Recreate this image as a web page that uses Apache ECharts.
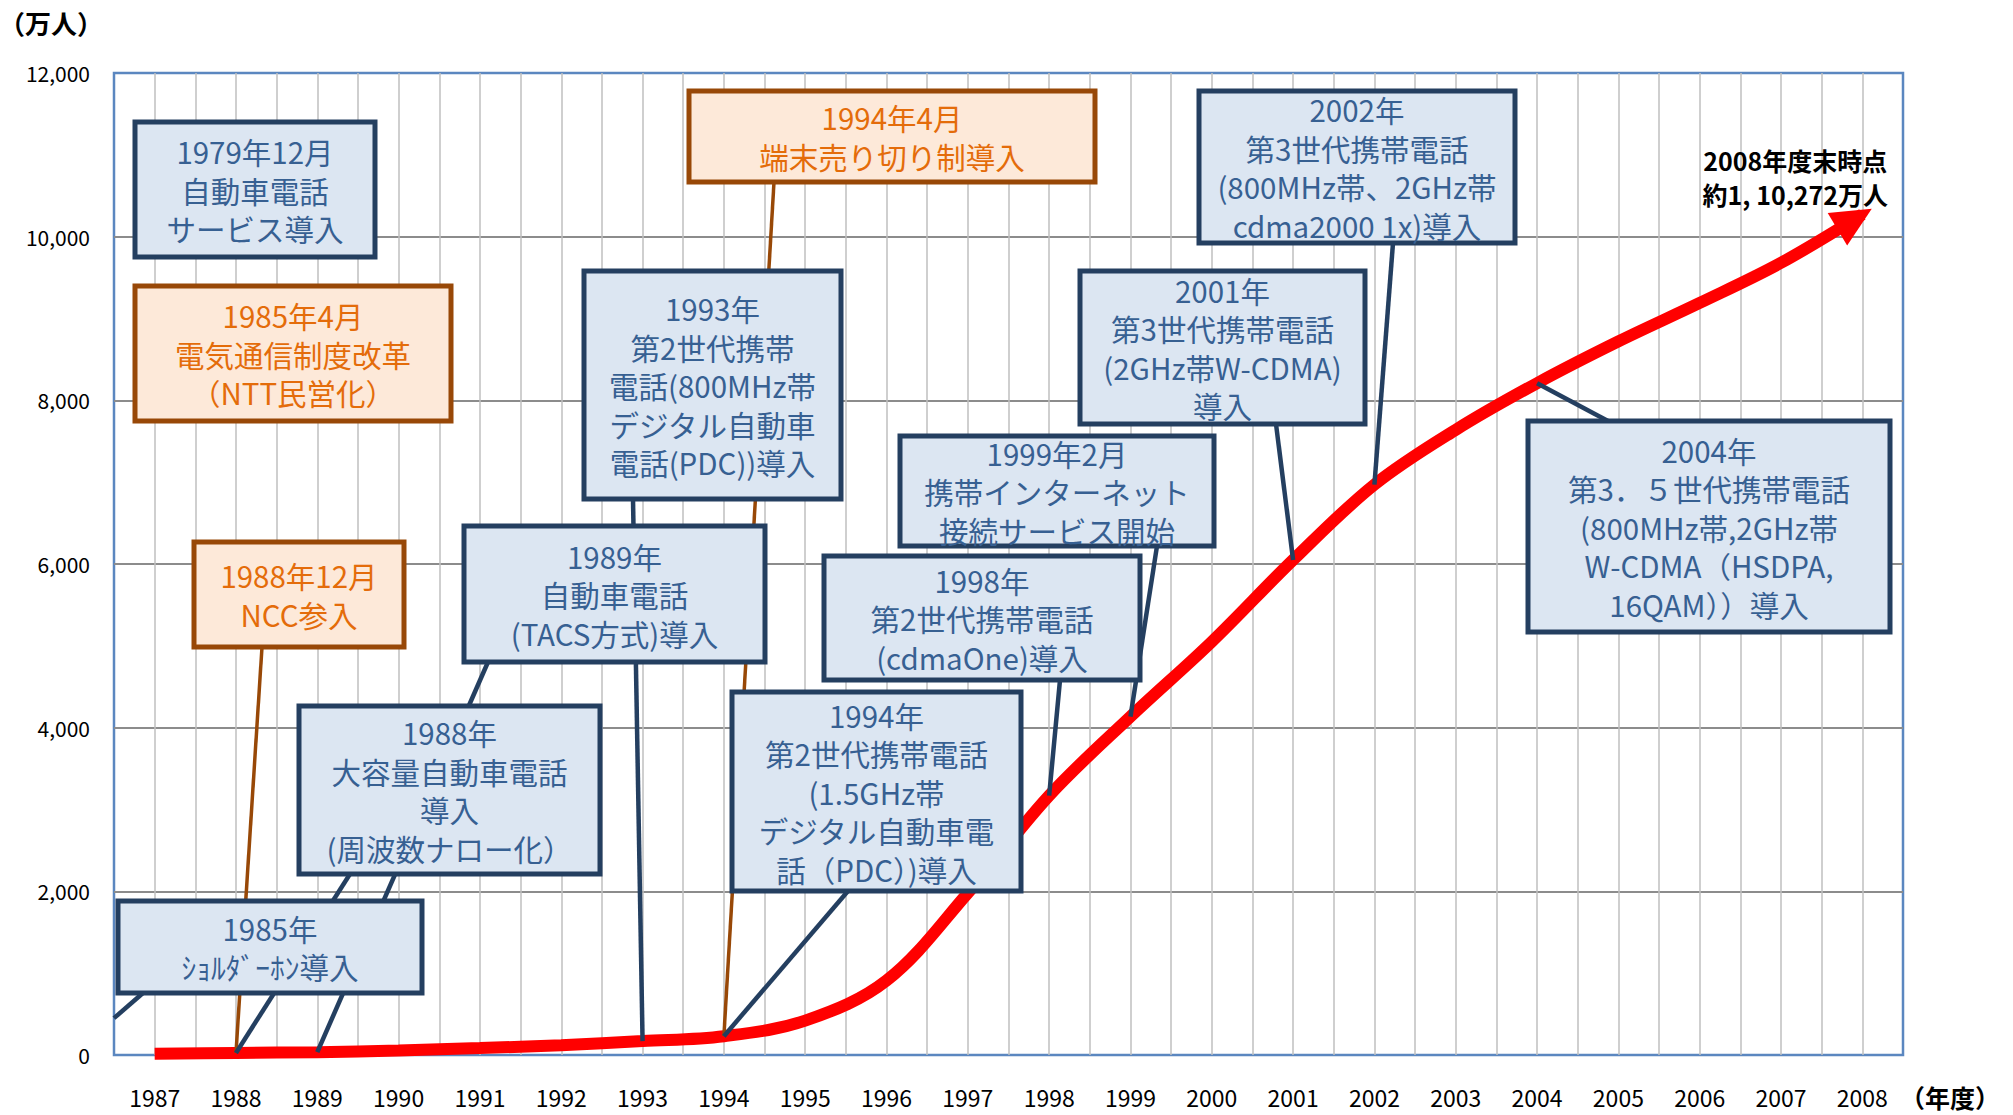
<!DOCTYPE html>
<html>
<head>
<meta charset="utf-8">
<script src="https://cdn.jsdelivr.net/npm/echarts@6/dist/echarts.min.js"></script>
<style>
  html, body { margin: 0; padding: 0; background: #fff; }
  #chart { width: 2013px; height: 1115px; }
</style>
</head>
<body>
<div id="chart"></div>
<script>
// 携帯電話契約数の推移（万人）
const years = [1987, 1988, 1989, 1990, 1991, 1992, 1993, 1994, 1995, 1996, 1997,
  1998, 1999, 2000, 2001, 2002, 2003, 2004, 2005, 2006, 2007, 2008];
const subscribers = [15, 25, 35, 55, 85, 120, 170, 230, 420, 910, 1980,
  3170, 4135, 5050, 6050, 6970, 7640, 8210, 8720, 9190, 9680, 10272];
const yTicks = [0, 2000, 4000, 6000, 8000, 10000, 12000];
const xRange = [1986.5, 2008.5];

const FONT = "'Noto Sans CJK JP', 'Noto Sans', sans-serif";

const palette = {
  blue: { fill: '#dce6f2', stroke: '#243f60', text: '#376092', link: 4.5 },
  orange: { fill: '#fde9d9', stroke: '#984807', text: '#e46c0a', link: 3.5 }
};

// 吹き出し（box: x, y, w, h はピクセル）
const notes = [
  { text: '1979年12月\n自動車電話\nサービス導入', kind: 'blue', box: [135, 122, 240, 135], links: [] },
  { text: '1985年4月\n電気通信制度改革\n（NTT民営化）', kind: 'orange', box: [135, 286, 316, 135], links: [] },
  { text: '1988年12月\nNCC参入', kind: 'orange', box: [194, 542, 210, 105], links: [{ from: [262, 647], year: 1988 }] },
  { text: '1985年\nｼｮﾙﾀﾞｰﾎﾝ導入', kind: 'blue', box: [118, 901, 304, 92], links: [{ from: [143, 993], to: [1986.5, 450] }] },
  { text: '1988年\n大容量自動車電話\n導入\n(周波数ナロー化）', kind: 'blue', box: [299, 706, 301, 168], links: [{ from: [350, 874], year: 1988 }] },
  { text: '1989年\n自動車電話\n(TACS方式)導入', kind: 'blue', box: [464, 526, 301, 136], links: [{ from: [488, 662], year: 1989 }] },
  { text: '1993年\n第2世代携帯\n電話(800MHz帯\nデジタル自動車\n電話(PDC))導入', kind: 'blue', box: [584, 271, 257, 228], links: [{ from: [633, 499], year: 1993 }] },
  { text: '1994年4月\n端末売り切り制導入', kind: 'orange', box: [689, 91, 406, 91], links: [{ from: [774, 182], year: 1994 }] },
  { text: '1994年\n第2世代携帯電話\n(1.5GHz帯\nデジタル自動車電\n話（PDC）)導入', kind: 'blue', box: [732, 692, 289, 199], links: [{ from: [848, 891], year: 1994 }] },
  { text: '1998年\n第2世代携帯電話\n(cdmaOne)導入', kind: 'blue', box: [824, 556, 316, 124], links: [{ from: [1060, 680], year: 1998 }] },
  { text: '1999年2月\n携帯インターネット\n接続サービス開始', kind: 'blue', box: [900, 436, 314, 110], links: [{ from: [1157, 546], year: 1999 }] },
  { text: '2001年\n第3世代携帯電話\n(2GHz帯W-CDMA)\n導入', kind: 'blue', box: [1080, 271, 285, 153], links: [{ from: [1276, 424], year: 2001 }] },
  { text: '2002年\n第3世代携帯電話\n(800MHz帯、2GHz帯\ncdma2000 1x)導入', kind: 'blue', box: [1199, 91, 316, 152], links: [{ from: [1393, 243], year: 2002 }] },
  { text: '2004年\n第3．５世代携帯電話\n(800MHz帯,2GHz帯\nW-CDMA（HSDPA,\n16QAM））導入', kind: 'blue', box: [1528, 421, 362, 211], links: [{ from: [1608, 421], year: 2004 }] }
];

const chart = echarts.init(document.getElementById('chart'), null, { renderer: 'svg' });
const last = years.length - 1;

chart.setOption({
  animation: false,
  backgroundColor: '#fff',
  grid: {
    left: 114, top: 73, right: 110, bottom: 60,
    show: true, borderColor: '#5b87c0', borderWidth: 2.5,
    containLabel: false, outerBoundsMode: 'none'
  },
  xAxis: {
    type: 'value',
    min: xRange[0], max: xRange[1], interval: 0.5,
    axisLine: { show: false }, axisTick: { show: false },
    axisLabel: {
      margin: 30, fontSize: 23, color: '#000', fontFamily: FONT,
      formatter: v => (Number.isInteger(v) ? String(v) : '')
    },
    splitLine: { show: true, showMinLine: false, showMaxLine: false, lineStyle: { color: '#bfbfbf', width: 1.5 } }
  },
  yAxis: {
    type: 'value',
    min: yTicks[0], max: yTicks[yTicks.length - 1], interval: yTicks[1] - yTicks[0],
    axisLine: { show: false }, axisTick: { show: false },
    axisLabel: {
      margin: 24, fontSize: 21, color: '#000', fontFamily: FONT,
      formatter: v => v.toLocaleString('en-US')
    },
    splitLine: { show: true, showMinLine: false, showMaxLine: false, lineStyle: { color: '#8c8c8c', width: 2 } }
  },
  series: [{
    type: 'line',
    data: years.map((y, i) => [y, subscribers[i]]),
    smooth: 0.35,
    symbol: 'none',
    silent: true,
    z: 3,
    lineStyle: { color: '#ff0000', width: 12 },
    markPoint: {
      symbol: 'circle', symbolSize: 1, silent: true,
      itemStyle: { color: 'rgba(0,0,0,0)' },
      data: [{ coord: [years[last], subscribers[last]] }],
      label: {
        show: true, position: 'inside', offset: [-67, -37],
        formatter: years[last] + '年度末時点\n約1, ' + subscribers[last].toLocaleString('en-US') + '万人',
        fontSize: 25, fontWeight: 'bold', lineHeight: 34, color: '#000', fontFamily: FONT
      }
    }
  }]
});

const pt = (x, y) => chart.convertToPixel({ gridIndex: 0 }, [x, y]);
const valueAt = y => subscribers[years.indexOf(y)];

const textStyle = (text, fill, size, weight, lh) => ({
  text: text, fill: fill, fontSize: size, fontWeight: weight, fontFamily: FONT, lineHeight: lh,
  align: 'center', verticalAlign: 'middle', textAlign: 'center', textVerticalAlign: 'middle'
});

const elements = [];

notes.forEach(n => {
  const c = palette[n.kind];
  n.links.forEach(l => {
    const to = l.to ? pt(l.to[0], l.to[1]) : pt(l.year, valueAt(l.year));
    elements.push({
      type: 'line', z: 100, silent: true,
      shape: { x1: l.from[0], y1: l.from[1], x2: to[0], y2: to[1] },
      style: { stroke: c.stroke, lineWidth: c.link }
    });
  });
});

notes.forEach(n => {
  const c = palette[n.kind];
  elements.push({
    type: 'rect', z: 110, silent: true,
    shape: { x: n.box[0], y: n.box[1], width: n.box[2], height: n.box[3] },
    style: { fill: c.fill, stroke: c.stroke, lineWidth: 5 }
  });
  elements.push({
    type: 'text', z: 120, silent: true,
    x: n.box[0] + n.box[2] / 2, y: n.box[1] + n.box[3] / 2,
    style: textStyle(n.text, c.text, 29.5, 'normal', 38.5)
  });
});

// 矢印の先端
const a = pt(years[last - 1], subscribers[last - 1]);
const b = pt(years[last], subscribers[last]);
const len = Math.hypot(b[0] - a[0], b[1] - a[1]);
const ux = (b[0] - a[0]) / len, uy = (b[1] - a[1]) / len;
const tip = [b[0] + ux * 11, b[1] + uy * 11];
const base = [tip[0] - ux * 40, tip[1] - uy * 40];
elements.push({
  type: 'polygon', z: 100, silent: true,
  shape: { points: [tip, [base[0] - uy * 19, base[1] + ux * 19], [base[0] + uy * 19, base[1] - ux * 19]] },
  style: { fill: '#ff0000' }
});

elements.push({ type: 'text', z: 100, silent: true, x: 51, y: 22, style: textStyle('（万人）', '#000', 26, 'bold', 30) });
elements.push({ type: 'text', z: 100, silent: true, x: 1950, y: 1097, style: textStyle('（年度）', '#000', 25, 'bold', 30) });

chart.setOption({ graphic: { elements: elements } });

window.addEventListener('resize', () => chart.resize());
</script>
</body>
</html>
